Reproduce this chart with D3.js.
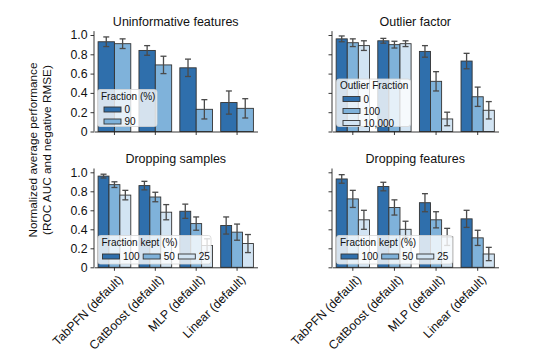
<!DOCTYPE html>
<html>
<head>
<meta charset="utf-8">
<script src="https://cdn.jsdelivr.net/npm/d3@7"></script>
<style>
  body { margin: 0; background: #fff; }
  svg { font-family: "Liberation Sans", Arial, Helvetica, sans-serif; }
</style>
</head>
<body>
<script>
var models = ["TabPFN (default)", "CatBoost (default)", "MLP (default)", "Linear (default)"];

// uninformative features, fraction (%)
var uninfKeys = ["0", "90"];
var uninf0 = [0.93, 0.84, 0.66, 0.30];
var uninf90 = [0.91, 0.69, 0.23, 0.24];
var uninf0Err = [0.05, 0.05, 0.09, 0.12];
var uninf90Err = [0.05, 0.09, 0.10, 0.10];

// outlier factor
var outKeys = ["0", "100", "10,000"];
var out0 = [0.96, 0.94, 0.83, 0.73];
var out100 = [0.92, 0.90, 0.52, 0.36];
var out10000 = [0.89, 0.91, 0.13, 0.22];
var out0Err = [0.03, 0.025, 0.06, 0.08];
var out100Err = [0.04, 0.035, 0.10, 0.10];
var out10000Err = [0.05, 0.03, 0.07, 0.09];

// dropping samples, fraction kept (%)
var keptKeys = ["100", "50", "25"];
var samp100 = [0.96, 0.86, 0.59, 0.44];
var samp50 = [0.87, 0.74, 0.46, 0.37];
var samp25 = [0.76, 0.58, 0.23, 0.25];
var samp100Err = [0.02, 0.045, 0.075, 0.09];
var samp50Err = [0.03, 0.05, 0.07, 0.085];
var samp25Err = [0.05, 0.08, 0.07, 0.095];

// dropping features, fraction kept (%)
var feat100 = [0.93, 0.85, 0.68, 0.51];
var feat50 = [0.72, 0.63, 0.50, 0.31];
var feat25 = [0.50, 0.40, 0.32, 0.14];
var feat100Err = [0.045, 0.045, 0.095, 0.09];
var feat50Err = [0.09, 0.08, 0.085, 0.08];
var feat25Err = [0.10, 0.085, 0.09, 0.07];

var yTicks = [0, 0.2, 0.4, 0.6, 0.8, 1.0];

var w = 534, h = 363;
var cols3 = ["#2f6fac", "#7fb2da", "#d2e4f3"];

var panels = [
  {title: "Uninformative features", vals: [uninf0, uninf90], errs: [uninf0Err, uninf90Err],
   keys: uninfKeys, legTitle: "Fraction (%)", ncol: 1,
   x0: 94, x1: 257.5, y0: 131.5, y1: 35, yLabels: true, xLabels: false,
   leg: {x: 97.5, y: 89.5, w: 59.5, h: 37}},
  {title: "Outlier factor", vals: [out0, out100, out10000], errs: [out0Err, out100Err, out10000Err],
   keys: outKeys, legTitle: "Outlier Fraction", ncol: 1,
   x0: 332, x1: 498.5, y0: 131.5, y1: 35, yLabels: false, xLabels: false,
   leg: {x: 336.5, y: 79, w: 74, h: 47.5}},
  {title: "Dropping samples", vals: [samp100, samp50, samp25], errs: [samp100Err, samp50Err, samp25Err],
   keys: keptKeys, legTitle: "Fraction kept (%)", ncol: 3,
   x0: 94, x1: 257.5, y0: 267.3, y1: 172.3, yLabels: true, xLabels: true,
   leg: {x: 98, y: 235.5, w: 113, h: 28.5}},
  {title: "Dropping features", vals: [feat100, feat50, feat25], errs: [feat100Err, feat50Err, feat25Err],
   keys: keptKeys, legTitle: "Fraction kept (%)", ncol: 3,
   x0: 332, x1: 498.5, y0: 267.3, y1: 172.3, yLabels: false, xLabels: true,
   leg: {x: 336.5, y: 235.5, w: 116, h: 28.5}}
];

var svg = d3.select("body").append("svg")
  .attr("width", w)
  .attr("height", h);

panels.forEach(function(p) {
  var n = p.vals.length;
  var colors = n == 2 ? [cols3[0], cols3[1]] : cols3;

  var x = d3.scaleBand()
    .domain(models)
    .range([p.x0, p.x1])
    .paddingInner(0.2)
    .paddingOuter(0.1);
  var sub = d3.scaleBand()
    .domain(d3.range(n))
    .range([0, x.bandwidth()]);
  var y = d3.scaleLinear()
    .domain([0, 1])
    .range([p.y0, p.y1]);

  var g = svg.append("g");

  // bars
  p.vals.forEach(function(series, s) {
    g.selectAll(null)
      .data(series)
      .enter().append("rect")
      .attr("x", function(d, i) { return x(models[i]) + sub(s); })
      .attr("y", function(d) { return y(d); })
      .attr("width", sub.bandwidth())
      .attr("height", function(d) { return y(0) - y(d); })
      .style("fill", colors[s])
      .style("stroke", "#333")
      .style("stroke-width", 0.9);
  });

  // error bars
  p.vals.forEach(function(series, s) {
    var eg = g.selectAll(null)
      .data(series)
      .enter().append("g")
      .style("stroke", "#4a4a4a")
      .style("stroke-width", 1.3);
    var cx = function(d, i) { return x(models[i]) + sub(s) + sub.bandwidth() / 2; };
    eg.append("line")
      .attr("x1", cx).attr("x2", cx)
      .attr("y1", function(d, i) { return y(d + p.errs[s][i]); })
      .attr("y2", function(d, i) { return y(d - p.errs[s][i]); });
    eg.append("line")
      .attr("x1", function(d, i) { return cx(d, i) - 3; })
      .attr("x2", function(d, i) { return cx(d, i) + 3; })
      .attr("y1", function(d, i) { return y(d + p.errs[s][i]); })
      .attr("y2", function(d, i) { return y(d + p.errs[s][i]); });
    eg.append("line")
      .attr("x1", function(d, i) { return cx(d, i) - 3; })
      .attr("x2", function(d, i) { return cx(d, i) + 3; })
      .attr("y1", function(d, i) { return y(d - p.errs[s][i]); })
      .attr("y2", function(d, i) { return y(d - p.errs[s][i]); });
  });

  // axes
  var yAxis = d3.axisLeft(y)
    .tickValues(yTicks)
    .tickSize(3.5)
    .tickPadding(3)
    .tickFormat(p.yLabels ? function(d) { return d == 0 ? "0" : d3.format(".1f")(d); } : "");
  var ya = g.append("g")
    .attr("transform", "translate(" + p.x0 + ",0)")
    .call(yAxis);
  ya.select(".domain").attr("d", "M0," + y(1.04) + "V" + y(0));
  ya.selectAll("text").style("font-size", "12.3px").style("fill", "#111").style("font-family", null);

  var xAxis = d3.axisBottom(x)
    .tickSize(3.5)
    .tickSizeOuter(0)
    .tickFormat("");
  g.append("g")
    .attr("transform", "translate(0," + p.y0 + ")")
    .call(xAxis);
  g.selectAll(".domain, .tick line").style("stroke", "#222").style("stroke-width", 0.9);

  if (p.xLabels) {
    g.selectAll(null)
      .data(models)
      .enter().append("text")
      .attr("transform", function(d) {
        return "translate(" + (x(d) + x.bandwidth() / 2 + 3) + "," + (p.y0 + 7) + ") rotate(-45)";
      })
      .attr("text-anchor", "end")
      .attr("dy", "0.7em")
      .style("font-size", "12.3px")
      .style("fill", "#111")
      .text(function(d) { return d; });
  }

  // title
  g.append("text")
    .attr("x", (p.x0 + p.x1) / 2)
    .attr("y", p.y1 - 9)
    .attr("text-anchor", "middle")
    .style("font-size", "12.5px")
    .style("fill", "#111")
    .text(p.title);

  // legend
  var L = p.leg;
  var lg = g.append("g");
  lg.append("rect")
    .attr("x", L.x).attr("y", L.y)
    .attr("width", L.w).attr("height", L.h)
    .attr("rx", 2.5)
    .style("fill", "#fff")
    .style("fill-opacity", 0.8)
    .style("stroke", "#d5d5d5")
    .style("stroke-width", 0.8);
  lg.append("text")
    .attr("x", L.x + 3.5)
    .attr("y", L.y + 10)
    .style("font-size", "10px")
    .style("fill", "#111")
    .text(p.legTitle);
  var px = L.x + (p.ncol == 1 ? 6.5 : 4.5);
  p.keys.forEach(function(k, s) {
    var cy, lx;
    if (p.ncol == 1) {
      cy = L.y + 20 + s * 12;
      lx = px;
    } else {
      cy = L.y + 21;
      lx = px;
    }
    lg.append("rect")
      .attr("x", lx).attr("y", cy - 2.5)
      .attr("width", 17).attr("height", 5)
      .style("fill", colors[s])
      .style("stroke", "#333")
      .style("stroke-width", 0.9);
    var t = lg.append("text")
      .attr("x", lx + 20.5)
      .attr("y", cy)
      .attr("dy", "0.35em")
      .style("font-size", "10px")
      .style("fill", "#111")
      .text(k);
    if (p.ncol > 1) px = lx + 20.5 + t.node().getComputedTextLength() + 3.5;
  });
});

// shared y label
var yl = svg.append("text")
  .attr("transform", "translate(39,150) rotate(-90)")
  .attr("text-anchor", "middle")
  .style("font-size", "11.8px")
  .style("fill", "#111");
yl.append("tspan").attr("x", 0).attr("dy", "-0.15em").text("Normalized average performance");
yl.append("tspan").attr("x", 0).attr("dy", "1.15em").text("(ROC AUC and negative RMSE)");
</script>
</body>
</html>
